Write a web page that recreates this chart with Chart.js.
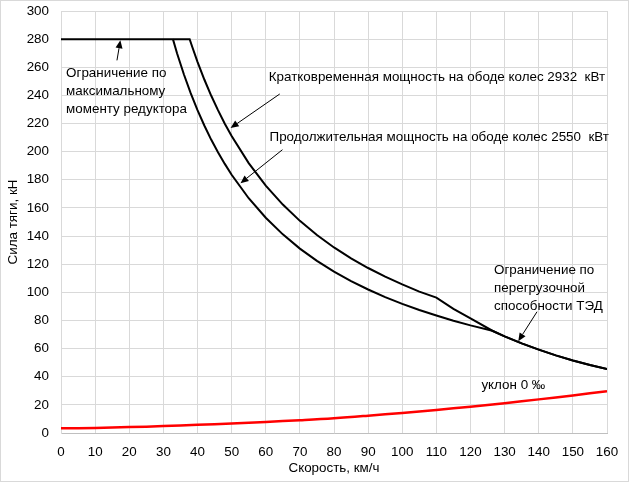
<!DOCTYPE html>
<html>
<head>
<meta charset="utf-8">
<script src="https://cdn.jsdelivr.net/npm/chart.js@4.4.0/dist/chart.umd.min.js"></script>
<style>
  html, body { margin: 0; padding: 0; background: #fff; }
  #wrap { position: relative; width: 629px; height: 482px; box-sizing: border-box; border: 1px solid #d9d9d9; }
  canvas { display: block; }
</style>
</head>
<body>
<div id="wrap"><canvas id="chart"></canvas></div>
<script>
// --- данные ---
// кратковременная мощность 2932 кВт (с ограничением по моменту и по ТЭД)
const shortSpeed = [0, 37.7, 38.5, 40, 42, 44, 46, 48, 50, 55, 60, 65, 70, 75, 80, 85, 90, 95, 100, 105, 110, 115, 120, 126.4, 130, 135, 140, 145, 150, 155, 160];
const shortForce = [280, 280, 274.2, 263.9, 251.3, 239.9, 229.5, 219.9, 211.1, 191.9, 175.9, 162.4, 150.8, 140.7, 131.9, 124.2, 117.3, 111.1, 105.6, 100.5, 96.2, 88.3, 81.5, 72.7, 68.7, 63.7, 59.3, 55.2, 51.6, 48.3, 45.4];

// продолжительная мощность 2550 кВт
const contSpeed = [32.8, 34, 36, 38, 40, 42, 44, 46, 48, 50, 55, 60, 65, 70, 75, 80, 85, 90, 95, 100, 105, 110, 115, 120, 126.4, 130, 135, 140, 145, 150, 155, 160];
const contForce = [280, 270, 255, 241.6, 229.5, 218.6, 208.6, 199.6, 191.3, 183.6, 166.9, 153.0, 141.2, 131.1, 122.4, 114.8, 108.0, 102.0, 96.6, 91.8, 87.4, 83.5, 79.8, 76.5, 72.7, 68.7, 63.7, 59.3, 55.2, 51.6, 48.3, 45.4];

// сопротивление движению, уклон 0 ‰
const resSpeed = [0, 10, 20, 30, 40, 50, 60, 70, 80, 90, 100, 110, 120, 130, 140, 150, 160];
const resForce = [3.3, 3.6, 4.2, 4.9, 5.8, 6.8, 7.9, 9.1, 10.5, 12.3, 14.3, 16.4, 18.7, 21.2, 23.9, 26.7, 29.7];

// подписи и стрелки (в координатах графика)
const labels = [
  { x: 1.5, y: 255.5, lines: ['Ограничение по', 'максимальному', 'моменту редуктора'] },
  { x: 60.9, y: 252.6, lines: ['Кратковременная мощность на ободе колес 2932  кВт'] },
  { x: 61.1, y: 210.4, lines: ['Продолжительная мощность на ободе колес 2550  кВт'] },
  { x: 126.9, y: 115.9, lines: ['Ограничение по', 'перегрузочной', 'способности ТЭД'] },
  { x: 123.2, y: 34.0, lines: ['уклон 0 ‰'] }
];
const arrows = [
  { x1: 16.4, y1: 264.9, x2: 17.4, y2: 279.2 },
  { x1: 64.1, y1: 241.0, x2: 49.7, y2: 216.8 },
  { x1: 64.9, y1: 201.4, x2: 52.6, y2: 177.6 },
  { x1: 139.5, y1: 86.2, x2: 134.0, y2: 65.3 }
];

const FONT = "'Liberation Sans', Arial, sans-serif";

function pts(xs, ys) {
  return xs.map((x, i) => ({ x: x, y: ys[i] }));
}

// плагин для подписей и стрелок
const notesPlugin = {
  id: 'notes',
  afterDatasetsDraw(chart) {
    const ctx = chart.ctx;
    const sx = chart.scales.x, sy = chart.scales.y;
    ctx.save();
    ctx.fillStyle = '#000';
    ctx.font = '13.4px ' + FONT;
    ctx.textBaseline = 'middle';
    ctx.textAlign = 'left';
    labels.forEach(l => {
      const px = sx.getPixelForValue(l.x);
      const py = sy.getPixelForValue(l.y);
      l.lines.forEach((t, i) => ctx.fillText(t, px, py + i * 18));
    });
    ctx.strokeStyle = '#000';
    ctx.lineWidth = 1;
    arrows.forEach(a => {
      const x1 = sx.getPixelForValue(a.x1), y1 = sy.getPixelForValue(a.y1);
      const x2 = sx.getPixelForValue(a.x2), y2 = sy.getPixelForValue(a.y2);
      const ang = Math.atan2(y2 - y1, x2 - x1);
      const len = 8, w = 3.5;
      const bx = x2 - len * Math.cos(ang), by = y2 - len * Math.sin(ang);
      ctx.beginPath();
      ctx.moveTo(x1, y1);
      ctx.lineTo(bx, by);
      ctx.stroke();
      ctx.beginPath();
      ctx.moveTo(x2, y2);
      ctx.lineTo(bx + w * Math.sin(ang), by - w * Math.cos(ang));
      ctx.lineTo(bx - w * Math.sin(ang), by + w * Math.cos(ang));
      ctx.closePath();
      ctx.fill();
    });
    ctx.restore();
  }
};

new Chart(document.getElementById('chart'), {
  type: 'scatter',
  data: {
    datasets: [
      { data: pts(shortSpeed, shortForce), borderColor: '#000', borderWidth: 2, showLine: true, pointRadius: 0, tension: 0 },
      { data: pts(contSpeed, contForce), borderColor: '#000', borderWidth: 2, showLine: true, pointRadius: 0, tension: 0 },
      { data: pts(resSpeed, resForce), borderColor: '#ff0000', borderWidth: 2.5, showLine: true, pointRadius: 0, tension: 0.4 }
    ]
  },
  options: {
    responsive: true,
    maintainAspectRatio: false,
    animation: false,
    layout: { padding: { left: 4, right: 21, top: 10, bottom: 0 } },
    plugins: { legend: { display: false }, tooltip: { enabled: false } },
    scales: {
      x: {
        type: 'linear', min: 0, max: 160,
        ticks: { stepSize: 10, color: '#000', font: { size: 13.4, family: FONT }, padding: 11, maxRotation: 0 },
        grid: { color: '#d9d9d9', drawTicks: false },
        border: { color: '#bfbfbf' },
        title: { display: true, text: 'Скорость, км/ч', color: '#000', font: { size: 13.4, family: FONT }, padding: { top: 0, bottom: 5 } },
        afterFit(s) { s.height = 48; s.paddingLeft = 0; s.paddingRight = 0; }
      },
      y: {
        type: 'linear', min: 0, max: 300,
        ticks: { stepSize: 20, color: '#000', font: { size: 13.4, family: FONT }, padding: 12 },
        grid: { color: '#d9d9d9', drawTicks: false },
        border: { color: '#d9d9d9' },
        title: { display: true, text: 'Сила тяги, кН', color: '#000', font: { size: 13.4, family: FONT }, padding: { top: 0, bottom: 0 } },
        afterFit(s) { s.width = 56; s.paddingTop = 0; s.paddingBottom = 0; }
      }
    }
  },
  plugins: [notesPlugin]
});
</script>
</body>
</html>
